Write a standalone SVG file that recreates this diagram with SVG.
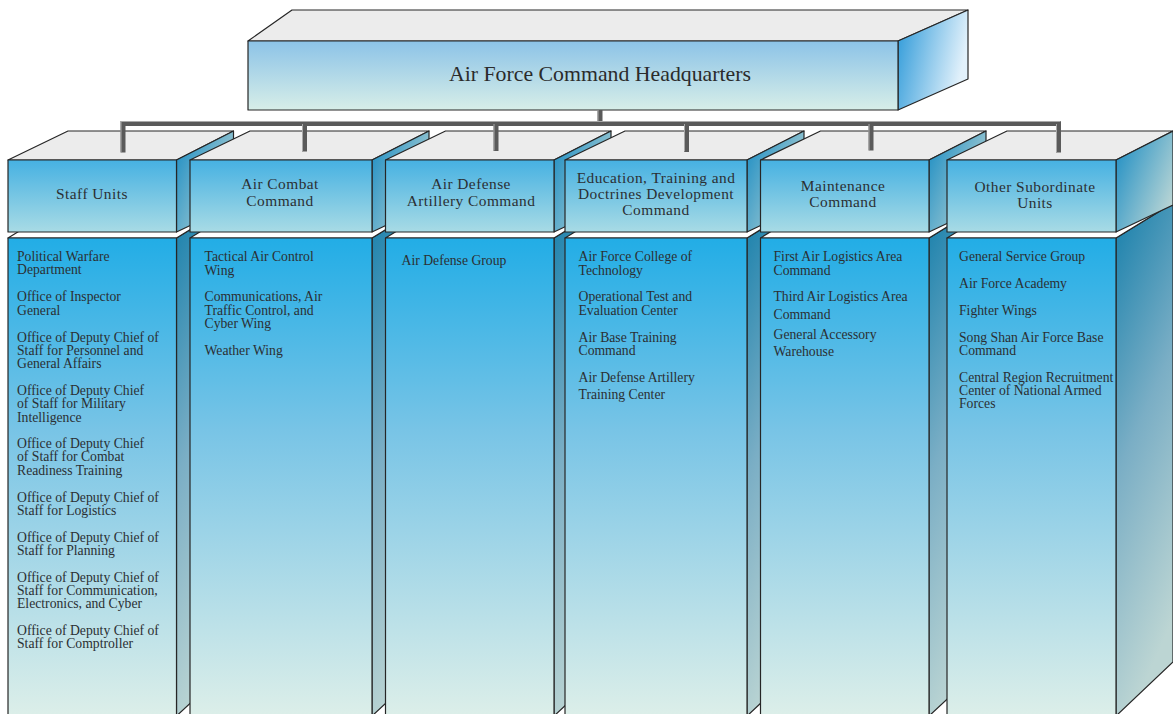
<svg xmlns="http://www.w3.org/2000/svg" width="1173" height="714" viewBox="0 0 1173 714">
<defs>
<linearGradient id="hqFront" x1="0" y1="0" x2="0" y2="1"><stop offset="0" stop-color="#8cc3e7"/><stop offset="1" stop-color="#d7eee8"/></linearGradient>
<linearGradient id="hqSide" x1="0" y1="0" x2="1" y2="0.3"><stop offset="0" stop-color="#2a98d8"/><stop offset="1" stop-color="#e2f1fb"/></linearGradient>
<linearGradient id="hdFront" x1="0" y1="0" x2="0" y2="1"><stop offset="0" stop-color="#46b1e2"/><stop offset="1" stop-color="#a8dbe5"/></linearGradient>
<linearGradient id="hdSide" x1="0" y1="0.15" x2="1" y2="0.85"><stop offset="0" stop-color="#2290c4"/><stop offset="1" stop-color="#c4dad6"/></linearGradient>
<linearGradient id="colFront" x1="0" y1="0" x2="0" y2="1"><stop offset="0" stop-color="#22ade6"/><stop offset="0.4" stop-color="#78c4e6"/><stop offset="1" stop-color="#ddefe9"/></linearGradient>
<linearGradient id="colSide" x1="0" y1="0" x2="0.25" y2="1"><stop offset="0" stop-color="#167fab"/><stop offset="0.5" stop-color="#7aaec5"/><stop offset="1" stop-color="#bcd5d3"/></linearGradient>
</defs>
<style>
.ln{stroke:#262626;stroke-width:1.2;stroke-linejoin:round}
.top{fill:#ececec}
.ctop{fill:#ffffff}
.hq{font-family:"Liberation Serif","Times New Roman",serif;font-size:21.8px;fill:#2b2b2b;text-anchor:middle}
.hd{font-family:"Liberation Serif","Times New Roman",serif;font-size:15.4px;letter-spacing:0.45px;fill:#2b2f33;text-anchor:middle}
.it{font-family:"Liberation Serif","Times New Roman",serif;font-size:13.7px;fill:#2b2f33}
</style>

<g id="hq">
<polygon class="ln top" points="248,41 898,41 968,10 292,10"/>
<polygon class="ln" fill="url(#hqSide)" points="898,41 968,10 968,79 898,110"/>
<rect class="ln" x="248" y="41" width="650" height="69" fill="url(#hqFront)"/>
<text class="hq" x="600" y="81">Air Force Command Headquarters</text>
</g>

<g id="col-staff">
<polygon class="ln" fill="url(#colSide)" points="176.5,238 233.5,203 233.5,663 176.5,716"/>
<polygon class="ln ctop" points="8,238 176.5,238 233.5,203 65,203"/>
<rect class="ln" x="8" y="238" width="168.5" height="480" fill="url(#colFront)"/>
<g class="it">
<text x="17" y="260.5">Political Warfare</text><text x="17" y="274">Department</text>
<text x="17" y="301">Office of Inspector</text><text x="17" y="314.5">General</text>
<text x="17" y="341.5">Office of Deputy Chief of</text><text x="17" y="354.5">Staff for Personnel and</text><text x="17" y="367.5">General Affairs</text>
<text x="17" y="394.5">Office of Deputy Chief</text><text x="17" y="408">of Staff for Military</text><text x="17" y="421.5">Intelligence</text>
<text x="17" y="447.5">Office of Deputy Chief</text><text x="17" y="461">of Staff for Combat</text><text x="17" y="474.5">Readiness Training</text>
<text x="17" y="501.5">Office of Deputy Chief of</text><text x="17" y="514.5">Staff for Logistics</text>
<text x="17" y="541.5">Office of Deputy Chief of</text><text x="17" y="554.5">Staff for Planning</text>
<text x="17" y="581.5">Office of Deputy Chief of</text><text x="17" y="594.5">Staff for Communication,</text><text x="17" y="607.5">Electronics, and Cyber</text>
<text x="17" y="634.5">Office of Deputy Chief of</text><text x="17" y="647.5">Staff for Comptroller</text>
</g>
</g>
<g id="hd-staff">
<polygon class="ln top" points="8,160 176.5,160 233.5,131 68,131"/>
<polygon class="ln" fill="url(#hdSide)" points="176.5,160 233.5,131 233.5,205 176.5,232"/>
<rect class="ln" x="8" y="160" width="168.5" height="72" fill="url(#hdFront)"/>
<text class="hd" x="92" y="198.5">Staff Units</text>
</g>

<g id="col-aircombat">
<polygon class="ln" fill="url(#colSide)" points="372,238 429,203 429,663 372,716"/>
<polygon class="ln ctop" points="190,238 372,238 429,203 247,203"/>
<rect class="ln" x="190" y="238" width="182" height="480" fill="url(#colFront)"/>
<g class="it">
<text x="204.5" y="260.5">Tactical Air Control</text><text x="204.5" y="274.5">Wing</text>
<text x="204.5" y="301">Communications, Air</text><text x="204.5" y="314.5">Traffic Control, and</text><text x="204.5" y="327.5">Cyber Wing</text>
<text x="204.5" y="354.5">Weather Wing</text>
</g>
</g>
<g id="hd-aircombat">
<polygon class="ln top" points="190,160 372,160 429,131 250,131"/>
<polygon class="ln" fill="url(#hdSide)" points="372,160 429,131 429,205 372,232"/>
<rect class="ln" x="190" y="160" width="182" height="72" fill="url(#hdFront)"/>
<text class="hd" x="280" y="189">Air Combat</text><text class="hd" x="280" y="205.5">Command</text>
</g>

<g id="col-airdefense">
<polygon class="ln" fill="url(#colSide)" points="554,238 611,203 611,663 554,716"/>
<polygon class="ln ctop" points="385.5,238 554,238 611,203 442.5,203"/>
<rect class="ln" x="385.5" y="238" width="168.5" height="480" fill="url(#colFront)"/>
<g class="it">
<text x="401.5" y="265">Air Defense Group</text>
</g>
</g>
<g id="hd-airdefense">
<polygon class="ln top" points="385.5,160 554,160 611,131 445.5,131"/>
<polygon class="ln" fill="url(#hdSide)" points="554,160 611,131 611,205 554,232"/>
<rect class="ln" x="385.5" y="160" width="168.5" height="72" fill="url(#hdFront)"/>
<text class="hd" x="471" y="189">Air Defense</text><text class="hd" x="471" y="205.5">Artillery Command</text>
</g>

<g id="col-education">
<polygon class="ln" fill="url(#colSide)" points="747,238 804,203 804,663 747,716"/>
<polygon class="ln ctop" points="565,238 747,238 804,203 622,203"/>
<rect class="ln" x="565" y="238" width="182" height="480" fill="url(#colFront)"/>
<g class="it">
<text x="578.5" y="260.5">Air Force College of</text><text x="578.5" y="274.5">Technology</text>
<text x="578.5" y="301">Operational Test and</text><text x="578.5" y="314.5">Evaluation Center</text>
<text x="578.5" y="341.5">Air Base Training</text><text x="578.5" y="354.5">Command</text>
<text x="578.5" y="381.5">Air Defense Artillery</text><text x="578.5" y="398.5">Training Center</text>
</g>
</g>
<g id="hd-education">
<polygon class="ln top" points="565,160 747,160 804,131 625,131"/>
<polygon class="ln" fill="url(#hdSide)" points="747,160 804,131 804,205 747,232"/>
<rect class="ln" x="565" y="160" width="182" height="72" fill="url(#hdFront)"/>
<text class="hd" x="656" y="183">Education, Training and</text><text class="hd" x="656" y="199">Doctrines Development</text><text class="hd" x="656" y="215">Command</text>
</g>

<g id="col-maintenance">
<polygon class="ln" fill="url(#colSide)" points="929,238 986,203 986,663 929,716"/>
<polygon class="ln ctop" points="760.5,238 929,238 986,203 817.5,203"/>
<rect class="ln" x="760.5" y="238" width="168.5" height="480" fill="url(#colFront)"/>
<g class="it">
<text x="773.5" y="260.5">First Air Logistics Area</text><text x="773.5" y="274.5">Command</text>
<text x="773.5" y="301">Third Air Logistics Area</text><text x="773.5" y="318.5">Command</text>
<text x="773.5" y="339">General Accessory</text><text x="773.5" y="355.5">Warehouse</text>
</g>
</g>
<g id="hd-maintenance">
<polygon class="ln top" points="760.5,160 929,160 986,131 820.5,131"/>
<polygon class="ln" fill="url(#hdSide)" points="929,160 986,131 986,205 929,232"/>
<rect class="ln" x="760.5" y="160" width="168.5" height="72" fill="url(#hdFront)"/>
<text class="hd" x="843" y="190.5">Maintenance</text><text class="hd" x="843" y="207">Command</text>
</g>

<g id="col-other">
<polygon class="ln" fill="url(#colSide)" points="1116,238 1173,203 1173,662 1116,716"/>
<polygon class="ln ctop" points="947,238 1116,238 1173,203 1004,203"/>
<rect class="ln" x="947" y="238" width="169" height="480" fill="url(#colFront)"/>
<g class="it">
<text x="959" y="260.5">General Service Group</text>
<text x="959" y="287.5">Air Force Academy</text>
<text x="959" y="314.5">Fighter Wings</text>
<text x="959" y="341.5">Song Shan Air Force Base</text><text x="959" y="354.5">Command</text>
<text x="959" y="381.5">Central Region Recruitment</text><text x="959" y="394.5">Center of National Armed</text><text x="959" y="407.5">Forces</text>
</g>
</g>
<g id="hd-other">
<polygon class="ln top" points="947,160 1116,160 1173,131 1007,131"/>
<polygon class="ln" fill="url(#hdSide)" points="1116,160 1173,131 1173,205 1116,232"/>
<rect class="ln" x="947" y="160" width="169" height="72" fill="url(#hdFront)"/>
<text class="hd" x="1035" y="191.5">Other Subordinate</text><text class="hd" x="1035" y="208">Units</text>
</g>

<g id="connectors">
<path d="M600,110 V123.5 M123,152.5 V123.5 H1058.5 V152.5 M304.5,123.5 V151.5 M496,123.5 V151 M686.5,123.5 V152 M871,123.5 V150.5" fill="none" stroke="#5a5a5a" stroke-width="5" stroke-linejoin="miter"/>
<path d="M121,152 V121.5 H1060.5 M302.5,124 V151 M494,124 V150.5 M684.5,124 V151.5 M869,124 V150 M1056.5,124 V152 M598,110 V121.5" fill="none" stroke="#a9a9a9" stroke-width="1"/>
</g>
</svg>
